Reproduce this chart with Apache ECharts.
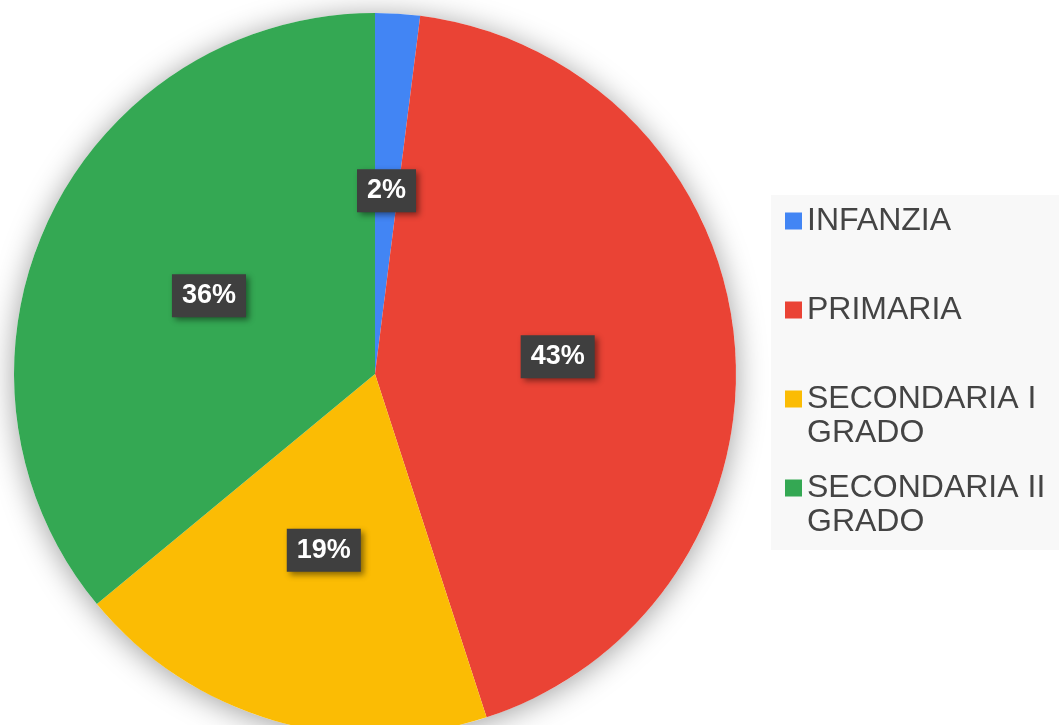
<!DOCTYPE html>
<html>
<head>
<meta charset="utf-8">
<script src="https://cdn.jsdelivr.net/npm/echarts@6/dist/echarts.min.js"></script>
<style>
  html, body { margin: 0; padding: 0; background: #fff; }
  #grafico_torta { width: 1059px; height: 725px; }
</style>
</head>
<body>
<div id="grafico_torta"></div>
<script>
// dati
const categorie = ['INFANZIA', 'PRIMARIA', 'SECONDARIA I GRADO', 'SECONDARIA II GRADO']
const percentuali = [2, 43, 19, 36]
const colori = ['#4285f4', '#ea4335', '#fbbc04', '#34a853']

// posizione verticale (centro della prima riga) di ogni voce di legenda
const legendaCentri = [221, 310, 399, 488]

const chart = echarts.init(document.getElementById('grafico_torta'))

const fontTesto = "'Liberation Sans', Arial, sans-serif"
const lineH = 34

const legende = categorie.map((nome, i) => {
  const dueRighe = nome.indexOf('GRADO') > -1
  const altezza = dueRighe ? lineH * 3 : lineH
  return {
    data: [nome],
    orient: 'vertical',
    left: 785,
    top: legendaCentri[i] - altezza / 2,
    padding: 0,
    icon: 'rect',
    itemWidth: 17,
    itemHeight: 17,
    // riga vuota in testa: così il quadratino resta allineato alla prima riga
    formatter: n => dueRighe ? ' \n' + n.replace(' GRADO', '\nGRADO') : n,
    textStyle: {
      fontFamily: fontTesto,
      fontSize: 32,
      lineHeight: lineH,
      color: '#444'
    }
  }
})

const option = {
  animation: false,
  color: colori,
  graphic: [
    {
      type: 'rect',
      left: 771,
      top: 195,
      z: -1,
      shape: { width: 288, height: 355 },
      style: { fill: '#f8f8f8' }
    }
  ],
  legend: legende,
  series: [
    {
      // solo ombra sotto la torta
      type: 'pie',
      silent: true,
      z: 1,
      center: [375, 374],
      radius: 361,
      label: { show: false },
      labelLine: { show: false },
      data: [{
        value: 1,
        name: '',
        itemStyle: {
          color: '#fff',
          shadowBlur: 30,
          shadowOffsetY: 3,
          shadowColor: 'rgba(0,0,0,0.38)'
        }
      }]
    },
    {
      type: 'pie',
      z: 2,
      center: [375, 374],
      radius: 361,
      startAngle: 90,
      clockwise: true,
      data: categorie.map((nome, i) => ({ name: nome, value: percentuali[i] })),
      label: {
        show: true,
        position: 'inside',
        formatter: '{c}%',
        color: '#fff',
        fontFamily: fontTesto,
        fontWeight: 'bold',
        fontSize: 27,
        lineHeight: 27,
        backgroundColor: '#3f3f3f',
        padding: [8, 10],
        shadowBlur: 6,
        shadowOffsetX: 3,
        shadowOffsetY: 3,
        shadowColor: 'rgba(0,0,0,0.45)'
      },
      labelLine: { show: false },
      emphasis: { scale: false }
    }
  ]
}

chart.setOption(option)
</script>
</body>
</html>
